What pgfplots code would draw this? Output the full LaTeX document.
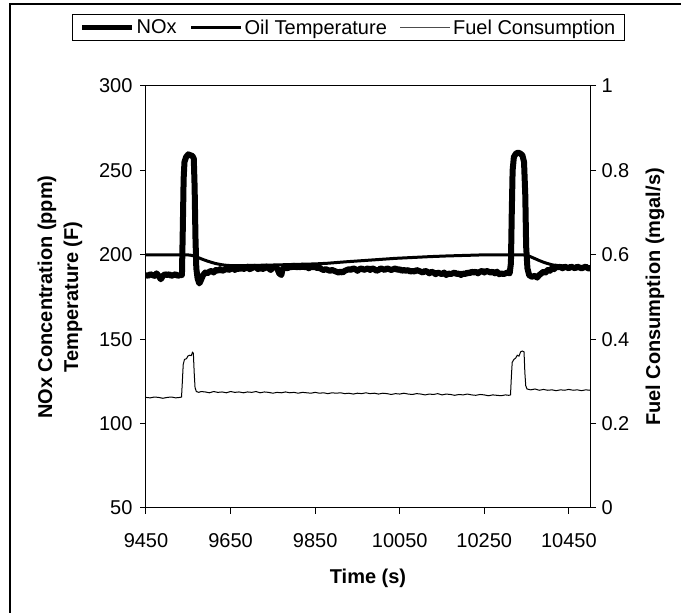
\documentclass[border=0pt]{standalone}
\usepackage{fontspec}
\setmainfont{Liberation Sans}
\usepackage{pgfplots}
\usepackage{pgfplotstable}
\pgfplotsset{compat=1.18}

\pgfplotstableread{
t v
9450 188
9455 187.5
9460 188.5
9465 188
9470 187.5
9475 189
9480 187.5
9485 185.5
9490 187.5
9495 188.5
9500 188
9505 188.5
9510 187.5
9515 188
9520 188.5
9525 187.5
9530 188
9535 188
9537 215
9539 245
9541 255
9545 258
9550 259.5
9555 259
9560 258.5
9563 257
9565 240
9567 210
9569 192
9572 186
9576 183
9580 185
9585 188
9590 189.5
9595 189
9600 190
9605 190.5
9610 189.5
9615 191
9620 190.5
9625 191.5
9630 190.5
9635 191
9640 192
9645 191
9650 191.5
9655 192.5
9660 191
9665 192
9670 191.5
9675 192.5
9680 191.5
9685 192
9690 193
9695 191.5
9700 192
9705 193
9710 192.5
9715 191.5
9720 192.5
9725 191.5
9730 192
9735 193
9740 192
9745 191
9750 192.5
9755 193
9760 192
9765 189
9770 188
9773 191.5
9778 192.5
9785 192
9790 193
9795 192.5
9800 193.5
9805 192.5
9810 193
9815 192.5
9820 193.5
9825 192.5
9830 193
9835 192
9840 193
9845 192.5
9850 193
9855 192
9860 192.5
9865 191.5
9870 191
9875 191.5
9880 191
9885 190.5
9890 191
9895 190.5
9900 190
9905 189.5
9910 190
9915 189.5
9920 190.5
9925 191
9930 191.5
9935 191
9940 192
9945 191.5
9950 190.5
9955 191.5
9960 192
9965 191
9970 191.5
9975 192
9980 191
9985 192
9990 191.5
9995 190.5
10000 191
10005 192
10010 191.5
10015 191
10020 192
10025 191.5
10030 191
10035 191.5
10040 192
10045 191
10050 191.5
10055 190.5
10060 191
10065 190.5
10070 191
10075 190
10080 190.5
10085 190
10090 191
10095 190.5
10100 190
10105 189.5
10110 190.5
10115 190
10120 189
10125 190
10130 189.5
10135 188.5
10140 189.5
10145 189
10150 188.5
10155 189.5
10160 188
10165 189
10170 188.5
10175 189
10180 189.5
10185 188.5
10190 189
10195 188
10200 189
10205 188.5
10210 189.5
10215 189
10220 190
10225 189.5
10230 190
10235 189
10240 190
10245 190.5
10250 189.5
10255 190.5
10260 190
10265 189.5
10270 190
10275 189
10280 190
10285 188.5
10290 189
10295 188.5
10300 189
10305 189.5
10310 189
10313 195
10315 225
10317 250
10320 258
10325 260
10330 260.5
10335 260
10340 259
10344 255
10347 235
10349 205
10352 192
10356 188
10362 187
10370 187.5
10375 186.5
10380 188
10385 189
10390 190
10395 189.5
10400 191
10405 190.5
10410 192
10415 191.5
10420 193
10425 192.5
10430 193
10435 192
10440 193
10445 192.5
10450 192
10455 193
10460 192.5
10465 192
10470 193
10475 192.5
10480 192
10485 192.5
10490 193
10495 192
10500 192
}\noxdata

\pgfplotstableread{
t v
9450 200
9545 200
9555 199.8
9565 199.2
9575 198.2
9585 197.2
9595 196.3
9605 195.5
9615 194.8
9625 194.3
9635 193.9
9650 193.6
9680 193.6
9720 193.8
9760 194
9800 194.3
9850 194.6
9880 195
9920 195.8
9960 196.5
10000 197.2
10040 197.9
10080 198.4
10120 198.9
10160 199.3
10200 199.6
10240 199.9
10280 200
10345 200
10352 199.6
10360 198.8
10370 197.7
10380 196.6
10390 195.6
10400 194.8
10410 194.1
10420 193.6
10435 193.2
10460 193
10500 193
}\oildata

\pgfplotstableread{
t v
9450 0.262
9460 0.261
9470 0.263
9480 0.262
9490 0.260
9500 0.262
9510 0.263
9520 0.261
9530 0.262
9534 0.263
9536 0.300
9538 0.340
9541 0.352
9546 0.354
9549 0.360
9553 0.362
9557 0.361
9560 0.369
9562 0.367
9564 0.320
9566 0.285
9569 0.276
9575 0.274
9580 0.276
9590 0.275
9600 0.273
9610 0.276
9620 0.274
9630 0.275
9640 0.273
9650 0.276
9660 0.274
9670 0.275
9680 0.273
9690 0.275
9700 0.274
9710 0.276
9720 0.273
9730 0.275
9740 0.274
9750 0.272
9760 0.274
9770 0.273
9780 0.275
9790 0.273
9800 0.274
9810 0.272
9820 0.274
9830 0.273
9840 0.272
9850 0.274
9860 0.272
9870 0.273
9880 0.271
9890 0.273
9900 0.272
9910 0.273
9920 0.271
9930 0.272
9940 0.270
9950 0.272
9960 0.271
9970 0.273
9980 0.271
9990 0.272
10000 0.270
10010 0.272
10020 0.271
10030 0.269
10040 0.271
10050 0.270
10060 0.272
10070 0.270
10080 0.269
10090 0.271
10100 0.270
10110 0.268
10120 0.270
10130 0.269
10140 0.271
10150 0.268
10160 0.270
10170 0.269
10180 0.267
10190 0.269
10200 0.268
10210 0.270
10220 0.268
10230 0.267
10240 0.269
10250 0.268
10260 0.266
10270 0.268
10280 0.267
10290 0.266
10300 0.268
10308 0.267
10312 0.268
10314 0.310
10316 0.345
10320 0.352
10324 0.355
10328 0.362
10332 0.360
10336 0.370
10340 0.372
10344 0.370
10346 0.320
10348 0.290
10351 0.282
10360 0.280
10370 0.282
10380 0.279
10390 0.281
10400 0.279
10410 0.280
10420 0.278
10430 0.280
10440 0.279
10450 0.281
10460 0.279
10470 0.280
10480 0.278
10490 0.280
10500 0.279
}\fueldata

\pgfplotsset{
  myaxis/.style={
    at={(146pt,105pt)}, anchor=south west,
    scale only axis, width=444pt, height=422pt,
    xmin=9450, xmax=10500,
    tick align=outside,
    major tick length=6pt,
    axis line style={line width=1pt},
    every tick/.style={black, line width=1pt},
    ticklabel style={font=\fontsize{20}{24}\selectfont},
    scaled x ticks=false, scaled y ticks=false,
    /pgf/number format/assume math mode=true,
    /pgf/number format/1000 sep={},
  }
}

\begin{document}
\begin{tikzpicture}[x=1pt,y=1pt]
\useasboundingbox (0,0) rectangle (681,613);
\draw[line width=1.3pt] (10,-20) rectangle (700,609);
\begin{axis}[myaxis,
  ymin=50, ymax=300,
  xtick={9450,9650,...,10450},
  ytick={50,100,...,300},
  xtick pos=lower, ytick pos=left,
  xticklabel style={yshift=-16pt},
  yticklabel style={xshift=-4pt},
  every axis x label/.style={at={(axis description cs:0.5,-0.166)}, anchor=center},
  every axis y label/.style={at={(axis description cs:-0.194,0.5)}, anchor=center, rotate=90},
  xlabel={Time (s)},
  ylabel={NOx Concentration (ppm)\\Temperature (F)},
  label style={font=\bfseries\fontsize{20}{26}\selectfont, align=center},
  legend columns=3,
  legend style={at={(axis description cs:0.4561,1.1386)}, anchor=center,
    draw=black, line width=1pt, fill=white,
    inner xsep=7pt, inner ysep=3pt,
    font=\fontsize{20}{24}\selectfont,
    /tikz/every even column/.append style={column sep=11pt}},
  legend image code/.code={\draw[#1] (0pt,0pt) -- (50pt,0pt);},
]
\addlegendimage{black, line width=5pt}
\addlegendentry{NOx}
\addlegendimage{black, line width=3pt}
\addlegendentry{Oil Temperature}
\addlegendimage{black!70, line width=1.2pt}
\addlegendentry{Fuel Consumption}
\addplot[black, line width=3pt, forget plot] table[x=t,y=v] {\oildata};
\addplot[black, line width=6pt, line join=round, line cap=round, forget plot] table[x=t,y=v] {\noxdata};
\end{axis}
\begin{axis}[myaxis,
  ymin=0, ymax=1,
  ytick={0,0.2,...,1},
  axis x line=none,
  axis y line*=right,
  ytick pos=right,
  yticklabel style={xshift=2pt},
  every axis y label/.style={at={(axis description cs:1.1464,0.5)}, anchor=center, rotate=90},
  ylabel={Fuel Consumption (mgal/s)},
  label style={font=\bfseries\fontsize{20}{26}\selectfont},
]
\addplot[black, line width=1pt] table[x=t,y=v] {\fueldata};
\end{axis}
\end{tikzpicture}
\end{document}
